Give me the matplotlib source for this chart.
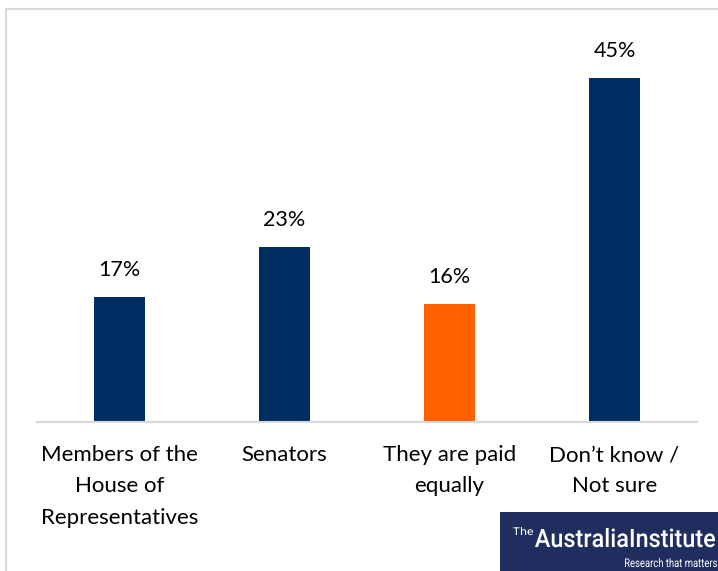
import matplotlib.pyplot as plt
from matplotlib.patches import Rectangle, PathPatch
from matplotlib.textpath import TextPath
from matplotlib.font_manager import FontProperties
from matplotlib.transforms import Affine2D

categories = ["Members of the\nHouse of\nRepresentatives", "Senators",
              "They are paid\nequally", "Don\u2019t know /\nNot sure"]
values = [16.3, 22.9, 15.4, 45.0]
value_labels = ["17%", "23%", "16%", "45%"]
colors = ["#002D62", "#002D62", "#FF6000", "#002D62"]

plt.rcParams["font.family"] = ["Lato", "DejaVu Sans"]

W, H = 718, 571
fig = plt.figure(figsize=(W / 100, H / 100), dpi=100)


def fit_text(ax, s, x0, y0, w, h, prop, color="white"):
    # draw text as a path squeezed into a w x h box (baseline at y0)
    tp = TextPath((0, 0), s, size=20, prop=prop)
    bb = tp.get_extents()
    tr = (Affine2D().translate(-bb.x0, 0)
          .scale(w / bb.width, h / bb.y1).translate(x0, y0))
    ax.add_patch(PathPatch(tr.transform_path(tp), facecolor=color,
                           edgecolor="none"))


# outer light border of the chart area
fig.patches.append(Rectangle((5.5 / W, -0.1), 1.2, (H - 8.5) / H + 0.1,
                             transform=fig.transFigure, fill=False,
                             edgecolor="#d9d9d9", linewidth=1.5))

ax = fig.add_axes([37 / W, (H - 421.5) / H, 660 / W, 382 / H])
x = range(len(values))
bars = ax.bar(x, values, width=0.315, color=colors)
ax.set_xlim(-0.5, 3.5)
ax.set_ylim(0, 50)

for b, v, lab in zip(bars, values, value_labels):
    ax.annotate(lab, (b.get_x() + b.get_width() / 2, v),
                xytext=(0, 27), textcoords="offset pixels",
                ha="center", va="center", fontsize=15.5, color="#000000")

ax.set_yticks([])
ax.set_xticks(list(x))
ax.set_xticklabels(categories, fontsize=16, linespacing=1.7, va="top")
ax.tick_params(axis="x", length=0, pad=17)
for s in ["top", "right", "left"]:
    ax.spines[s].set_visible(False)
ax.spines["bottom"].set_color("#d9d9d9")
ax.spines["bottom"].set_linewidth(1.5)

# logo block
lax = fig.add_axes([500 / W, 0, 218 / W, 59 / H])
lax.set_xlim(0, 218)
lax.set_ylim(0, 59)
lax.axis("off")
lax.add_patch(Rectangle((0, 0), 218, 59, color="#1f2e5e"))
med = FontProperties(family="Roboto", weight="medium")
reg = FontProperties(family="Roboto")
fit_text(lax, "The", 13, 36, 20, 8, reg)
fit_text(lax, "AustraliaInstitute", 35, 24, 180, 19, med)
fit_text(lax, "Research that matters", 125, 4, 92, 9, reg)

fig.savefig("out.png", dpi=100)
